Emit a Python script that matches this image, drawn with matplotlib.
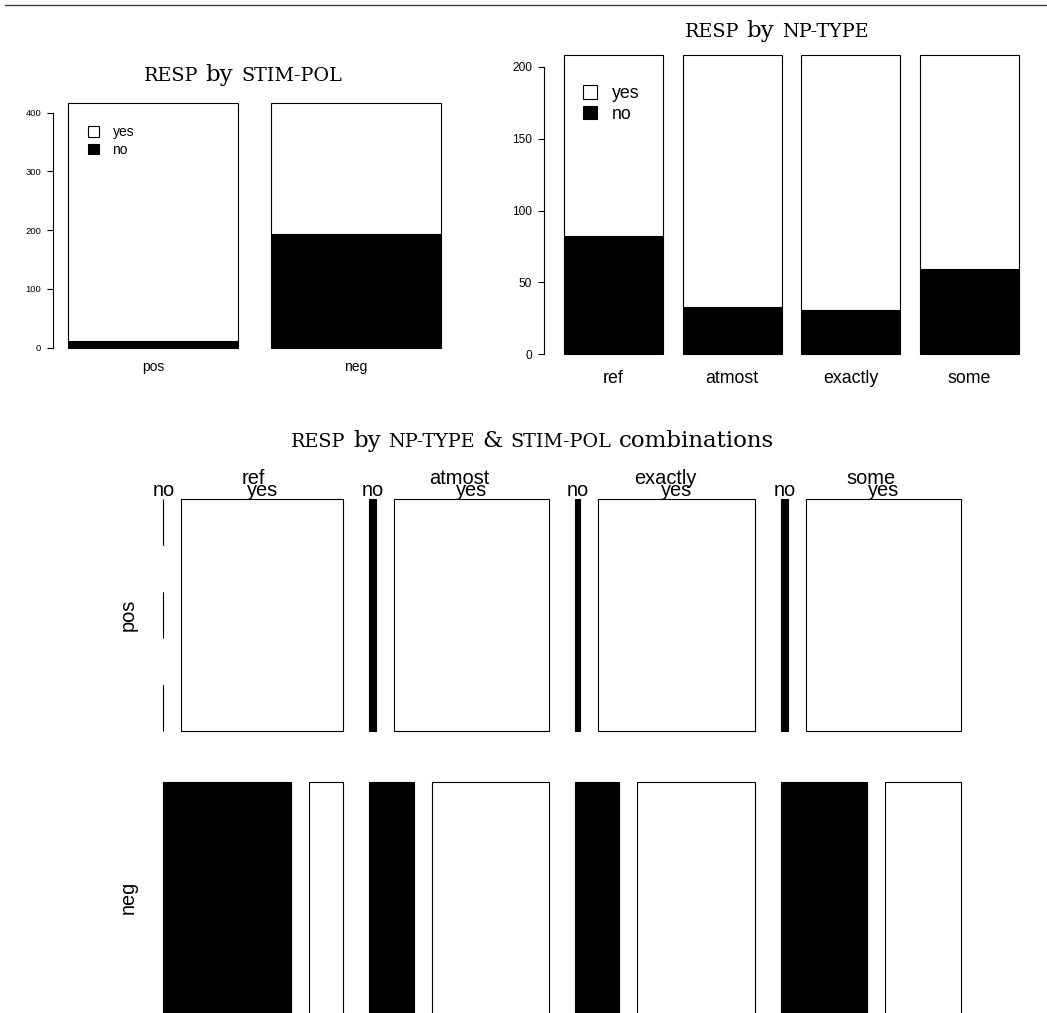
import matplotlib
matplotlib.use('Agg')
import matplotlib.pyplot as plt
import matplotlib.transforms as mtransforms
from matplotlib.patches import Patch, Rectangle
from matplotlib.lines import Line2D
import numpy as np

plt.rcParams['font.family'] = ['Liberation Sans', 'DejaVu Sans']

np_types = ['ref', 'atmost', 'exactly', 'some']
stim_pols = ['pos', 'neg']
resp_levels = ['yes', 'no']

# number of "no" answers in each np-type, per stimulus polarity
no_pos = [0, 4, 3, 4]
no_neg = [82, 29, 28, 55]
# trials in each polarity x np-type cell
n_pos = [104, 104, 104, 104]
n_neg = [104, 104, 104, 104]

no = np.array([no_pos, no_neg])
cell_n = np.array([n_pos, n_neg])
yes = cell_n - no

W, H = 1047, 1013
fig = plt.figure(figsize=(W / 100, H / 100), dpi=100)


def px_axes(x0, y0, x1, y1):
    return fig.add_axes([x0 / W, 1 - y1 / H, (x1 - x0) / W, (y1 - y0) / H])


def sc_title(cx, base, parts, sc_size=13.8, rm_size=16.5, gap=7.5):
    # fake small caps: upper-case words set smaller than the lower-case ones
    r = fig.canvas.get_renderer()
    texts = []
    for s, sc in parts:
        t = fig.text(0, 0, s, fontsize=sc_size if sc else rm_size,
                     family='DejaVu Serif', va='baseline', ha='left',
                     transform=mtransforms.IdentityTransform())
        texts.append(t)
    widths = [t.get_window_extent(r).width for t in texts]
    total = sum(widths) + gap * (len(texts) - 1)
    x = cx - total / 2
    for t, w in zip(texts, widths):
        t.set_position((x, H - base))
        x += w + gap


def barplot(ax, no_c, tot_c, labels, tick_step, tick_fs, lab_fs, lab_pad):
    n = len(labels)
    left = 0.2 + 1.2 * np.arange(n)
    ax.bar(left, no_c, width=1, align='edge', color='black',
           edgecolor='black', linewidth=0.8, clip_on=False)
    ax.bar(left, tot_c - no_c, bottom=no_c, width=1, align='edge',
           color='white', edgecolor='black', linewidth=0.8, clip_on=False)
    ax.set_ylim(0, tot_c.max())
    for s in ['top', 'right', 'bottom']:
        ax.spines[s].set_visible(False)
    top_tick = (tot_c.max() // tick_step) * tick_step
    ax.spines['left'].set_bounds(0, top_tick)
    ax.spines['left'].set_linewidth(0.8)
    ax.set_yticks(np.arange(0, top_tick + 1, tick_step))
    ax.tick_params(axis='y', length=4.3, width=0.8, pad=4.5, labelsize=tick_fs)
    ax.set_xticks(left + 0.5)
    ax.set_xticklabels(labels, fontsize=lab_fs)
    ax.tick_params(axis='x', length=0, pad=lab_pad)
    ax.patch.set_visible(False)


# RESP by STIM-POL
no_pol = no.sum(axis=1)
tot_pol = cell_n.sum(axis=1)
ax1 = px_axes(53.3, 103.3, 440.7, 347.7)
ax1.set_xlim(0.2 - 15.0 / 169.4, 0.2 + 1.2 * len(stim_pols) - 0.2)
barplot(ax1, no_pol, tot_pol, stim_pols, 100, 6.8, 10, 8.5)
ax1.legend([Patch(facecolor='white', edgecolor='black', lw=0.8),
            Patch(facecolor='black', edgecolor='black', lw=0.8)],
           resp_levels, loc='upper left', bbox_to_anchor=(0.09, 0.91),
           frameon=False, fontsize=10, handlelength=0.8, handleheight=0.8,
           handletextpad=0.95, labelspacing=0.25, borderpad=0, borderaxespad=0)
sc_title(243, 81, [('RESP', True), ('by', False), ('STIM-POL', True)])

# RESP by NP-TYPE
no_np = no.sum(axis=0)
tot_np = cell_n.sum(axis=0)
ax2 = px_axes(544.3, 55.2, 1019, 354.3)
ax2.set_xlim(0, 0.2 + 1.2 * len(np_types) - 0.2)
barplot(ax2, no_np, tot_np, np_types, 50, 8.6, 12.8, 11)
ax2.legend([Patch(facecolor='white', edgecolor='black', lw=0.8),
            Patch(facecolor='black', edgecolor='black', lw=0.8)],
           resp_levels, loc='upper left', bbox_to_anchor=(0.081, 0.9),
           frameon=False, fontsize=12.8, handlelength=0.8, handleheight=0.8,
           handletextpad=0.85, labelspacing=0.2, borderpad=0, borderaxespad=0)
sc_title(776.5, 36.7, [('RESP', True), ('by', False), ('NP-TYPE', True)])

# mosaic of RESP within NP-TYPE x STIM-POL
ax3 = px_axes(163.3, 498.7, 961.3, 1013.7)
ax3.set_xlim(0, 1)
ax3.set_ylim(1, 0)
ax3.axis('off')
col_gap, resp_gap, row_gap = 26 / 798, 18 / 798, 51 / 515
col_tot = cell_n.sum(axis=0)
col_w = (1 - col_gap * (len(np_types) - 1)) * col_tot / col_tot.sum()
row_px = 515 * (1 - row_gap) / 2
x0 = 0.0
for j, npt in enumerate(np_types):
    row_h = (1 - row_gap * (len(stim_pols) - 1)) * cell_n[:, j] / col_tot[j]
    inner = col_w[j] - resp_gap
    y0 = 0.0
    for i in range(len(stim_pols)):
        w_no = inner * no[i, j] / cell_n[i, j]
        w_yes = inner * yes[i, j] / cell_n[i, j]
        if no[i, j] == 0:
            dash = row_px / 5 * 0.72 / 0.8
            ax3.plot([x0, x0], [y0, y0 + row_h[i]], color='black', lw=0.8,
                     linestyle=(0, (dash, dash)), clip_on=False)
        else:
            ax3.add_patch(Rectangle((x0, y0), w_no, row_h[i], facecolor='black',
                                    edgecolor='black', lw=0.8, clip_on=False))
        ax3.add_patch(Rectangle((x0 + w_no + resp_gap, y0), w_yes, row_h[i],
                                facecolor='white', edgecolor='black', lw=0.8,
                                clip_on=False))
        if i == 0:
            ax3.annotate('no', (x0 + w_no / 2, y0), xytext=(0, 1.6),
                         textcoords='offset points', ha='center', va='baseline',
                         fontsize=14.4)
            ax3.annotate('yes', (x0 + w_no + resp_gap + w_yes / 2, y0),
                         xytext=(0, 1.6), textcoords='offset points',
                         ha='center', va='baseline', fontsize=14.4)
        y0 += row_h[i] + row_gap
    ax3.annotate(npt, (x0 + col_w[j] / 2, 0), xytext=(0, 10.6),
                 textcoords='offset points', ha='center', va='baseline',
                 fontsize=14.4)
    x0 += col_w[j] + col_gap

row_h = (1 - row_gap) / 2
for i, sp in enumerate(stim_pols):
    ax3.annotate(sp, (0, row_h / 2 + i * (row_h + row_gap)), xytext=(-25.5, 0),
                 textcoords='offset points', ha='center', va='center',
                 rotation=90, fontsize=14.4)
sc_title(532.5, 446.7, [('RESP', True), ('by', False), ('NP-TYPE', True),
                        ('&', False), ('STIM-POL', True),
                        ('combinations', False)])

fig.add_artist(Line2D([5 / W, 1], [1 - 4.7 / H, 1 - 4.7 / H],
                      color='#404040', lw=1))

fig.savefig('out.png', dpi=100)
